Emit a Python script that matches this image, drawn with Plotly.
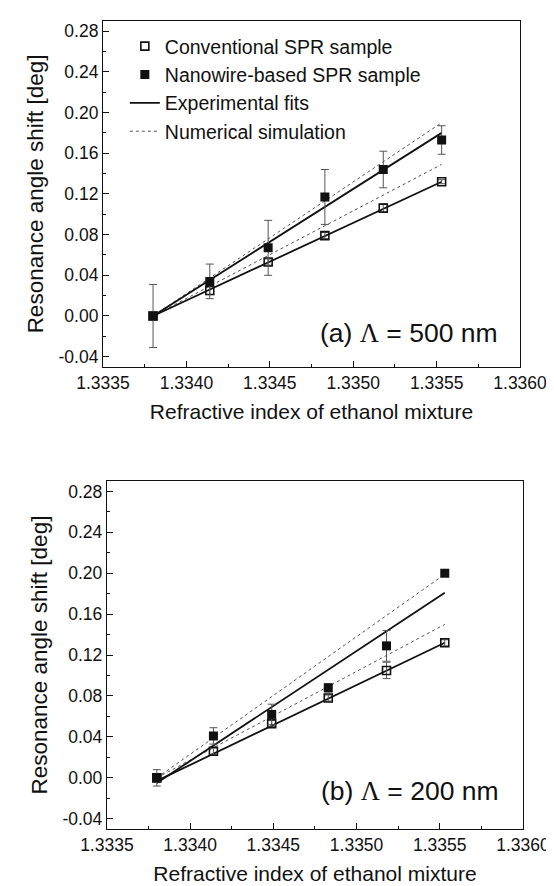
import plotly.graph_objects as go

# refractive index of the ethanol mixtures
ri = [1.33380, 1.33414, 1.33449, 1.33483, 1.33518, 1.33553]
fit_ri = [1.33380, 1.33553]

# (a) grating period 500 nm
a_conv = [0.0, 0.025, 0.053, 0.079, 0.106, 0.132]
a_conv_err = [0.002, 0.004, 0.003, 0.003, 0.004, 0.002]
a_nano = [0.0, 0.034, 0.067, 0.117, 0.144, 0.173]
a_nano_err = [0.031, 0.017, 0.027, 0.027, 0.018, 0.014]
a_conv_fit = [0.0, 0.132]
a_nano_fit = [0.0, 0.180]
a_conv_sim = [0.0, 0.149]
a_nano_sim = [0.0, 0.190]

# (b) grating period 200 nm
b_conv = [0.0, 0.026, 0.053, 0.078, 0.105, 0.132]
b_conv_err = [0.003, 0.003, 0.003, 0.003, 0.008, 0.003]
b_nano = [0.0, 0.041, 0.062, 0.088, 0.129, 0.200]
b_nano_err = [0.008, 0.008, 0.010, 0.004, 0.015, 0.003]
b_conv_fit = [-0.003, 0.132]
b_nano_fit = [-0.005, 0.181]
b_conv_sim = [0.0, 0.150]
b_nano_sim = [0.0, 0.199]

xticks = [1.3335, 1.3340, 1.3345, 1.3350, 1.3355, 1.3360]
yticks = [-0.04, 0.00, 0.04, 0.08, 0.12, 0.16, 0.20, 0.24, 0.28]

FONT = "Arial, Liberation Sans, sans-serif"
INK = "#111111"
GREY = "#555555"
LAMBDA = '<span style="font-family:Liberation Serif, Times New Roman, serif">\u039b</span>'

fig = go.Figure()

panels = [
    ("x", "y", a_conv, a_conv_err, a_nano, a_nano_err, a_conv_fit, a_nano_fit, a_conv_sim, a_nano_sim, True),
    ("x2", "y2", b_conv, b_conv_err, b_nano, b_nano_err, b_conv_fit, b_nano_fit, b_conv_sim, b_nano_sim, False),
]

for xa, ya, conv, conv_err, nano, nano_err, conv_fit, nano_fit, conv_sim, nano_sim, leg in panels:
    # simulation (dashed)
    fig.add_scatter(x=fit_ri, y=conv_sim, xaxis=xa, yaxis=ya, mode="lines",
                    line=dict(color=GREY, width=1, dash="dot"),
                    name="Numerical simulation", showlegend=False, legendrank=4)
    fig.add_scatter(x=fit_ri, y=nano_sim, xaxis=xa, yaxis=ya, mode="lines",
                    line=dict(color=GREY, width=1, dash="dot"),
                    name="Numerical simulation", showlegend=leg, legendrank=4)
    # experimental fits (solid)
    fig.add_scatter(x=fit_ri, y=conv_fit, xaxis=xa, yaxis=ya, mode="lines",
                    line=dict(color=INK, width=1.8),
                    name="Experimental fits", showlegend=False, legendrank=3)
    fig.add_scatter(x=fit_ri, y=nano_fit, xaxis=xa, yaxis=ya, mode="lines",
                    line=dict(color=INK, width=1.8),
                    name="Experimental fits", showlegend=leg, legendrank=3)
    # measured points
    fig.add_scatter(x=ri, y=conv, xaxis=xa, yaxis=ya, mode="markers",
                    marker=dict(symbol="square-open", size=8, color=INK, line=dict(width=1.6)),
                    error_y=dict(type="data", array=conv_err, color=GREY, thickness=1, width=4),
                    name="Conventional SPR sample", showlegend=leg, legendrank=1)
    fig.add_scatter(x=ri, y=nano, xaxis=xa, yaxis=ya, mode="markers",
                    marker=dict(symbol="square", size=9, color=INK),
                    error_y=dict(type="data", array=nano_err, color=GREY, thickness=1, width=4),
                    name="Nanowire-based SPR sample", showlegend=leg, legendrank=2)

xaxis_style = dict(
    range=[1.3335, 1.3360], tickvals=xticks, ticktext=[f"{v:.4f}" for v in xticks],
    ticks="inside", ticklen=6, tickwidth=1, tickcolor=INK,
    minor=dict(ticks="inside", ticklen=3, dtick=0.00025, tickcolor=INK),
    showline=True, linecolor=INK, linewidth=1.2, mirror=True,
    showgrid=False, zeroline=False,
    tickfont=dict(size=17.5, color=INK, family=FONT),
    title=dict(text="Refractive index of ethanol mixture", font=dict(size=21, color=INK, family=FONT), standoff=12),
)
yaxis_style = dict(
    range=[-0.05, 0.29], tickvals=yticks, ticktext=[f"{v:.2f}" for v in yticks],
    ticks="inside", ticklen=6, tickwidth=1, tickcolor=INK,
    minor=dict(ticks="inside", ticklen=3, dtick=0.02, tick0=0, tickcolor=INK),
    showline=True, linecolor=INK, linewidth=1.2, mirror=True,
    showgrid=False, zeroline=False,
    tickfont=dict(size=17.5, color=INK, family=FONT),
    title=dict(text="Resonance angle shift [deg]", font=dict(size=22.5, color=INK, family=FONT), standoff=8),
)

fig.update_layout(
    width=554, height=886,
    margin=dict(l=95, r=27, t=13, b=60),
    paper_bgcolor="white", plot_bgcolor="white",
    font=dict(family=FONT, color=INK),
    xaxis=dict(xaxis_style, domain=[0, 0.993], anchor="y"),
    yaxis=dict(yaxis_style, domain=[0.572, 1.0], anchor="x"),
    xaxis2=dict(xaxis_style, domain=[0.0093, 1.0], anchor="y2"),
    yaxis2=dict(yaxis_style, domain=[0, 0.4305], anchor="x2"),
    legend=dict(x=0.052, y=0.9926, xanchor="left", yanchor="top",
                bgcolor="rgba(0,0,0,0)", font=dict(size=19.5, color=INK, family=FONT),
                tracegroupgap=0, itemwidth=30),
    annotations=[
        dict(text=f"(a) {LAMBDA} = 500 nm", x=1.33588, y=-0.017, xref="x", yref="y",
             xanchor="right", yanchor="middle", showarrow=False,
             font=dict(size=26.5, color=INK, family=FONT)),
        dict(text=f"(b) {LAMBDA} = 200 nm", x=1.33587, y=-0.013, xref="x2", yref="y2",
             xanchor="right", yanchor="middle", showarrow=False,
             font=dict(size=26.5, color=INK, family=FONT)),
    ],
)

fig.write_html("out.html")
